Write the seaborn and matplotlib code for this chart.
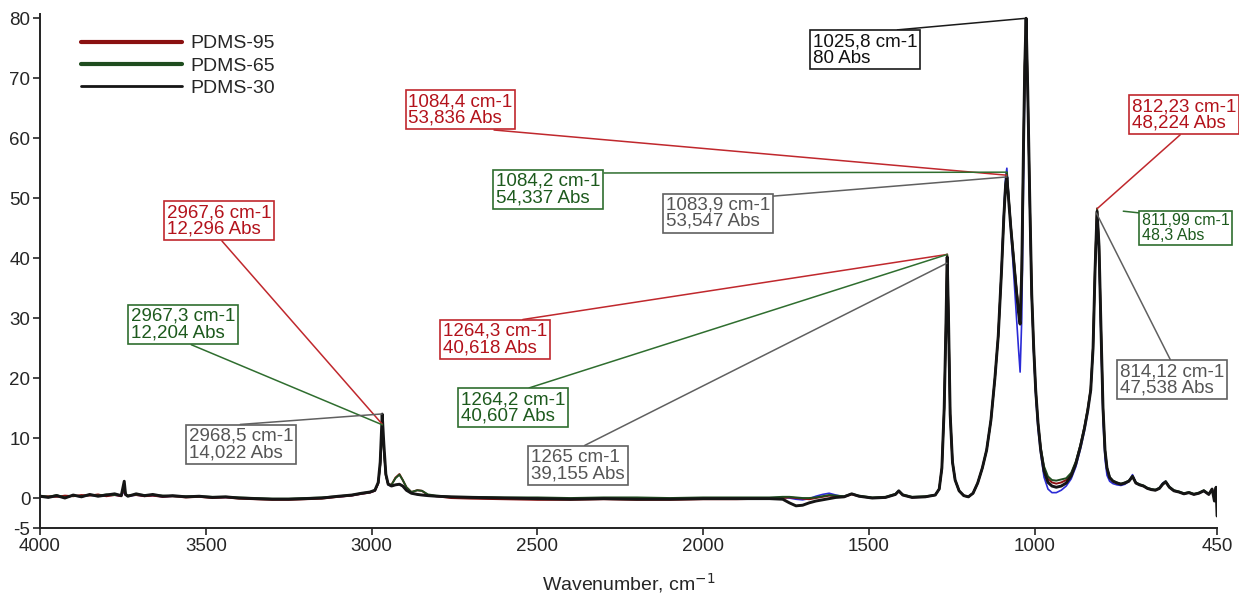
import pandas as pd
import seaborn as sns
import matplotlib.pyplot as plt

# spectrum (wavenumber in cm-1, absorbance)
wavenumber = [
    4000, 3975, 3950, 3925, 3900, 3875, 3850, 3825, 3800, 3775,
    3755, 3746, 3742, 3735, 3710, 3685, 3660, 3630, 3600, 3560,
    3520, 3480, 3440, 3400, 3350, 3300, 3250, 3200, 3150, 3100,
    3060, 3030, 3005, 2990, 2980, 2974, 2968, 2963, 2957, 2950,
    2940, 2928, 2916, 2906, 2895, 2880, 2862, 2848, 2830, 2805,
    2760, 2700, 2600, 2500, 2400, 2300, 2200, 2100, 2000, 1900,
    1800, 1760, 1740, 1720, 1700, 1680, 1660, 1640, 1620, 1600,
    1575, 1552, 1530, 1490, 1450, 1420, 1410, 1398, 1370, 1330,
    1300, 1288, 1280, 1273, 1268, 1264, 1260, 1255, 1248, 1240,
    1228, 1214, 1200, 1186, 1172, 1158, 1145, 1132, 1120, 1110,
    1100, 1093, 1088, 1084, 1079, 1072, 1064, 1056, 1049, 1044,
    1039, 1034, 1030, 1026, 1021, 1015, 1009, 1003, 997, 990,
    982, 972, 960, 948, 935, 920, 905, 890, 876, 862,
    850, 840, 831, 824, 818, 812, 806, 800, 794, 788,
    782, 774, 764, 752, 740, 728, 716, 705, 695, 684,
    672, 660, 648, 636, 624, 614, 605, 594, 580, 565,
    550, 535, 520, 505, 490, 475, 465, 458, 453, 450,
]

pdms_95 = [
    0.2, 0.3, 0.2, 0.4, 0.3, 0.5, 0.4, 0.6, 0.3, 0.5,
    0.3, 1.5, 0.5, 0.4, 0.5, 0.3, 0.4, 0.2, 0.3, 0.1,
    0.2, 0.0, 0.1, -0.1, -0.2, -0.3, -0.3, -0.2, -0.1, 0.2,
    0.4, 0.7, 0.9, 1.2, 2.4, 5.5, 12.3, 8.2, 3.8, 2.3,
    2.2, 3.4, 4.0, 3.0, 1.8, 1.0, 1.3, 1.2, 0.5, 0.3,
    0.0, -0.1, -0.2, -0.3, -0.3, -0.2, -0.3, -0.3, -0.2, -0.2,
    -0.1, 0.0, 0.1, 0.0, -0.1, -0.2, 0.0, 0.2, 0.4, 0.3,
    0.2, 0.6, 0.3, 0.0, 0.1, 0.6, 1.1, 0.5, 0.1, 0.2,
    0.5, 1.5, 5.0, 15.0, 28.0, 40.6, 30.0, 14.0, 6.0, 3.0,
    1.2, 0.4, 0.2, 0.8, 2.5, 5.0, 8.0, 13.0, 20.0, 27.0,
    38.0, 47.0, 52.0, 53.8, 50.3, 45.3, 40.4, 35.5, 31.8, 30.0,
    38.5, 58.0, 72.0, 80.0, 68.0, 50.0, 34.0, 25.0, 18.0, 12.5,
    8.3, 5.0, 3.2, 2.6, 2.4, 2.6, 3.0, 4.0, 5.9, 8.8,
    11.8, 14.8, 18.2, 25.2, 38.5, 48.2, 42.0, 28.0, 15.0, 8.0,
    5.0, 3.4, 2.8, 2.5, 2.3, 2.5, 2.8, 3.6, 2.5, 2.2,
    2.0, 1.6, 1.4, 1.3, 1.6, 2.3, 2.7, 1.8, 1.2, 1.0,
    0.7, 0.9, 0.6, 0.8, 1.2, 0.6, 1.5, 0.4, 1.6, 0.2,
]

pdms_65 = [
    0.4, 0.2, 0.5, 0.1, 0.4, 0.3, 0.5, 0.4, 0.6, 0.5,
    0.5, 1.8, 0.7, 0.4, 0.6, 0.5, 0.5, 0.4, 0.3, 0.3,
    0.3, 0.2, 0.2, 0.1, 0.0, -0.1, -0.1, 0.0, 0.1, 0.3,
    0.5, 0.8, 1.0, 1.3, 2.5, 5.5, 12.2, 8.1, 3.8, 2.3,
    2.2, 3.3, 3.9, 3.0, 1.8, 1.0, 1.3, 1.2, 0.6, 0.4,
    0.2, 0.2, 0.1, 0.1, 0.0, 0.1, 0.1, 0.0, 0.1, 0.1,
    0.1, 0.2, 0.2, 0.1, 0.0, 0.0, 0.1, 0.3, 0.5, 0.4,
    0.3, 0.7, 0.4, 0.1, 0.2, 0.7, 1.2, 0.6, 0.2, 0.3,
    0.5, 1.5, 5.0, 15.0, 28.0, 40.6, 30.0, 14.0, 6.0, 3.0,
    1.2, 0.4, 0.2, 0.8, 2.5, 5.0, 8.0, 13.0, 20.0, 27.0,
    38.0, 47.0, 52.5, 54.3, 50.5, 45.4, 40.3, 35.3, 31.5, 29.5,
    38.3, 58.0, 72.0, 80.0, 68.0, 50.0, 34.0, 25.0, 18.0, 12.5,
    8.5, 5.3, 3.6, 3.0, 2.9, 3.1, 3.3, 4.2, 6.1, 8.9,
    11.9, 14.9, 18.2, 25.2, 38.5, 48.3, 42.0, 28.0, 15.0, 8.0,
    5.1, 3.5, 2.9, 2.6, 2.4, 2.6, 2.9, 3.7, 2.6, 2.3,
    2.1, 1.7, 1.5, 1.4, 1.7, 2.4, 2.8, 1.9, 1.3, 1.1,
    0.8, 1.0, 0.7, 0.9, 1.3, 0.7, 1.2, 0.6, 1.4, 0.5,
]

pdms_30 = [
    0.3, 0.1, 0.4, 0.0, 0.5, 0.2, 0.6, 0.3, 0.5, 0.7,
    0.4, 2.8, 0.6, 0.3, 0.7, 0.4, 0.6, 0.3, 0.4, 0.2,
    0.3, 0.1, 0.2, 0.0, -0.1, -0.2, -0.2, -0.1, 0.0, 0.3,
    0.5, 0.8, 1.0, 1.3, 2.6, 6.0, 14.0, 9.0, 4.0, 2.3,
    2.0, 2.2, 2.3, 2.0, 1.3, 0.8, 0.6, 0.5, 0.4, 0.3,
    0.2, 0.1, 0.0, -0.1, -0.2, -0.1, -0.2, -0.2, -0.1, -0.1,
    -0.1, -0.2, -0.8, -1.3, -1.2, -0.8, -0.5, -0.3, -0.1, 0.1,
    0.2, 0.7, 0.3, 0.0, 0.1, 0.6, 1.2, 0.5, 0.1, 0.2,
    0.5, 1.5, 5.0, 15.0, 28.0, 40.2, 30.0, 14.0, 6.0, 3.0,
    1.2, 0.4, 0.2, 0.8, 2.5, 5.0, 8.0, 13.0, 20.0, 27.0,
    38.0, 47.0, 52.0, 53.5, 50.0, 45.0, 40.0, 35.0, 31.0, 29.0,
    38.0, 58.0, 72.0, 80.0, 68.0, 50.0, 34.0, 25.0, 18.0, 12.5,
    8.0, 4.5, 2.6, 2.0, 1.8, 2.0, 2.5, 3.7, 5.7, 8.6,
    11.6, 14.6, 18.0, 25.0, 38.0, 47.8, 42.0, 28.0, 15.0, 8.0,
    5.0, 3.4, 2.8, 2.5, 2.3, 2.5, 2.8, 3.6, 2.5, 2.2,
    2.0, 1.6, 1.4, 1.3, 1.6, 2.3, 2.7, 1.8, 1.2, 1.0,
    0.7, 0.9, 0.6, 0.8, 1.2, 0.6, 1.5, -0.5, 1.8, -3.0,
]

# unlabelled blue trace that only shows in the valleys
blue_trace = [
    0.3, 0.2, 0.3, 0.1, 0.4, 0.2, 0.5, 0.3, 0.4, 0.5,
    0.3, 1.2, 0.5, 0.3, 0.5, 0.3, 0.4, 0.2, 0.3, 0.2,
    0.2, 0.1, 0.1, 0.0, -0.1, -0.2, -0.2, -0.1, 0.0, 0.2,
    0.4, 0.7, 0.9, 1.2, 2.4, 5.5, 12.5, 8.3, 3.8, 2.2,
    2.0, 2.2, 2.3, 2.0, 1.3, 0.8, 0.6, 0.5, 0.4, 0.3,
    0.1, 0.0, -0.1, -0.1, -0.2, -0.1, -0.1, -0.1, 0.0, 0.0,
    0.0, 0.1, 0.0, -0.2, -0.3, -0.1, 0.3, 0.6, 0.8, 0.5,
    0.2, 0.7, 0.3, 0.0, 0.1, 0.6, 1.2, 0.5, 0.1, 0.2,
    0.5, 1.5, 5.0, 15.0, 28.0, 40.0, 30.0, 14.0, 6.0, 3.0,
    1.2, 0.4, 0.2, 0.8, 2.5, 5.0, 8.0, 13.0, 20.0, 27.0,
    38.5, 48.0, 53.5, 55.0, 51.0, 45.0, 38.0, 31.0, 25.0, 21.0,
    30.0, 52.0, 70.0, 79.5, 67.0, 49.0, 33.0, 24.0, 17.0, 11.5,
    7.5, 3.5, 1.5, 0.9, 0.9, 1.3, 2.0, 3.2, 5.2, 8.2,
    11.2, 14.3, 18.0, 25.0, 38.0, 47.5, 41.0, 26.0, 13.0, 6.5,
    3.8, 2.8, 2.4, 2.2, 2.1, 2.3, 2.8, 3.9, 2.6, 2.2,
    2.0, 1.6, 1.4, 1.3, 1.7, 2.5, 2.8, 1.8, 1.2, 1.0,
    0.7, 0.9, 0.6, 0.8, 1.2, 0.6, 1.4, 0.3, 1.5, 0.2,
]

# peak labels
peak_wn = [2967.6, 2967.3, 2968.5, 1084.4, 1084.2, 1083.9, 1025.8,
           1264.3, 1264.2, 1265, 812.23, 811.99, 814.12]
peak_abs = [12.296, 12.204, 14.022, 53.836, 54.337, 53.547, 80,
            40.618, 40.607, 39.155, 48.224, 48.3, 47.538]
peak_kind = ["red", "green", "grey", "red", "green", "grey", "black",
             "red", "green", "grey", "red", "green", "grey"]

# box positions (data coords, top-left of text) and where the leader leaves the box
box_pos = [(3618, 49.0), (3726, 31.7), (3551, 11.7), (2889, 67.5), (2624, 54.2),
           (2113, 50.3), (1670, 77.5), (2784, 29.2), (2730, 17.8), (2519, 8.2),
           (707, 66.7), (677, 47.5), (743, 22.5)]
leader_from = [(0.5, 0), (0.5, 0), (0.05, 1), (0.45, 0), (1, 1), (1, 1), (0.45, 1),
               (0.55, 1), (0.55, 1), (0.5, 1), (0.5, 0), (0, 1), (0.5, 1)]

text_colors = {"red": "#b3121b", "green": "#1d5a1d", "grey": "#555555", "black": "#111111"}
line_colors = {"red": "#c0282d", "green": "#2f6e2f", "grey": "#606060", "black": "#1a1a1a"}


def fmt(v):
    return str(v).replace(".", ",")


sns.set_style("ticks")
plt.rcParams["font.family"] = ["Liberation Sans", "DejaVu Sans"]
plt.rcParams["axes.unicode_minus"] = False

fig = plt.figure(figsize=(12.39, 5.99), dpi=100)
ax = fig.add_axes([0.0323, 0.1185, 0.950, 0.858])

sns.lineplot(x=wavenumber, y=blue_trace, color="#2b2bd6", lw=1.2, ax=ax)
sns.lineplot(x=wavenumber, y=pdms_95, color="#8a1010", lw=1.4, label="PDMS-95", ax=ax)
sns.lineplot(x=wavenumber, y=pdms_65, color="#1f4d1f", lw=1.4, label="PDMS-65", ax=ax)
sns.lineplot(x=wavenumber, y=pdms_30, color="#151515", lw=2.1, label="PDMS-30", ax=ax)

for w, a, kind, pos, rel in zip(peak_wn, peak_abs, peak_kind, box_pos, leader_from):
    label = f"{fmt(w)} cm-1\n{fmt(a)} Abs"
    small = w == 811.99
    ax.annotate(label, xy=(w, a), xytext=pos, ha="left", va="top",
                fontsize=11.5 if small else 13.5, linespacing=0.95,
                color=text_colors[kind],
                bbox=dict(boxstyle="square,pad=0.15", fc="white",
                          ec=line_colors[kind], lw=1.2),
                arrowprops=dict(arrowstyle="-", color=line_colors[kind], lw=1.1,
                                relpos=rel, shrinkA=0,
                                shrinkB=19 if small else 0))

ax.set_xlim(4000, 450)
ax.set_ylim(-5, 80.7)
ax.set_xticks([4000, 3500, 3000, 2500, 2000, 1500, 1000, 450])
ax.set_yticks([-5, 0, 10, 20, 30, 40, 50, 60, 70, 80])
ax.tick_params(labelsize=13.5, length=5, width=1.2, pad=2)
for side in ["top", "right"]:
    ax.spines[side].set_visible(False)
for side in ["left", "bottom"]:
    ax.spines[side].set_linewidth(1.4)
    ax.spines[side].set_color("#222222")

ax.set_xlabel("Wavenumber, cm$^{-1}$", fontsize=14, labelpad=12)
ax.set_ylabel("")

leg = ax.legend(loc="upper left", bbox_to_anchor=(0.028, 0.975), frameon=False,
                fontsize=14, handlelength=5.2, handletextpad=0.45,
                labelspacing=0.25, borderaxespad=0)
for line, lw in zip(leg.get_lines(), [3, 3, 2]):
    line.set_linewidth(lw)

fig.savefig("out.png", dpi=100)
